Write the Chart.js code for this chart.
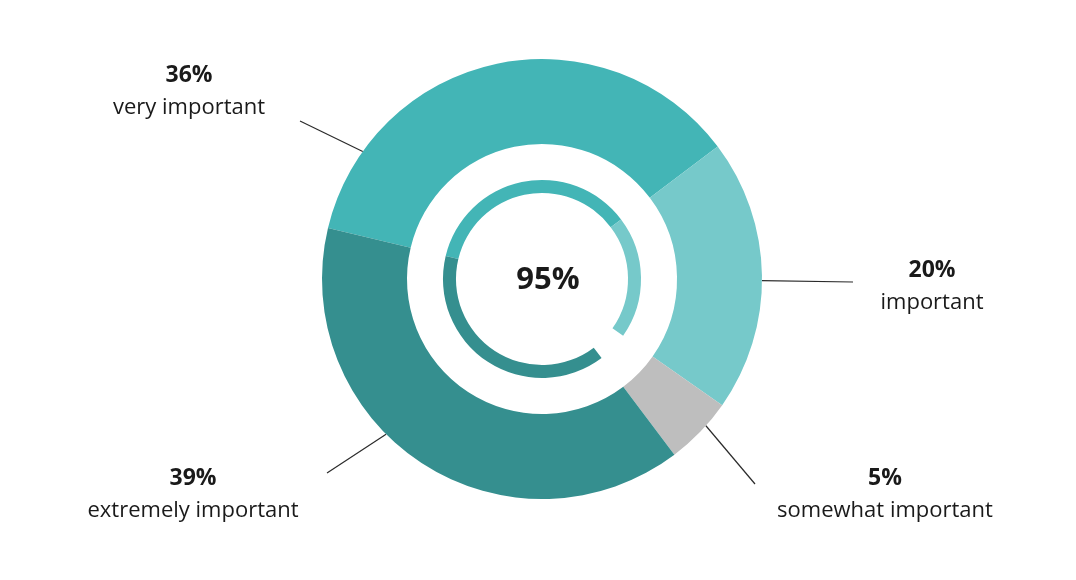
<!DOCTYPE html>
<html>
<head>
<meta charset="utf-8">
<script src="https://cdn.jsdelivr.net/npm/chart.js@4.4.0/dist/chart.umd.min.js"></script>
<style>
  html, body { margin: 0; padding: 0; background: #ffffff; }
  #wrap { width: 1076px; height: 580px; }
</style>
</head>
<body>
<div id="wrap"><canvas id="donut" width="1076" height="580"></canvas></div>
<script>
// data
const categories = ['very important', 'important', 'somewhat important', 'extremely important'];
const shares = [36, 20, 5, 39];
const totalLabel = '95%';

const colors = ['#43b5b6', '#76c9ca', '#bebebe', '#358f8f'];
// the inner thin ring leaves out "somewhat important"
const innerColors = ['#43b5b6', '#76c9ca', 'rgba(0,0,0,0)', '#358f8f'];

// where each callout sits: fraction along its arc, line end, text centre
const callouts = [
    { frac: 0.17, lineEnd: [300, 121], text: [189, 75] },
    { frac: 0.52, lineEnd: [853, 282], text: [932, 270] },
    { frac: 0.38, lineEnd: [755, 484], text: [885, 478] },
    { frac: 0.585, lineEnd: [327, 473], text: [193, 478] }
];

const calloutPlugin = {
    id: 'callouts',
    afterDraw(chart) {
        const ctx = chart.ctx;
        const arcs = chart.getDatasetMeta(0).data;
        ctx.save();
        arcs.forEach((arc, i) => {
            const c = callouts[i];
            const a = arc.startAngle + (arc.endAngle - arc.startAngle) * c.frac;
            const sx = arc.x + Math.cos(a) * arc.outerRadius;
            const sy = arc.y + Math.sin(a) * arc.outerRadius;

            ctx.strokeStyle = '#2b2b2b';
            ctx.lineWidth = 1.2;
            ctx.beginPath();
            ctx.moveTo(sx, sy);
            ctx.lineTo(c.lineEnd[0], c.lineEnd[1]);
            ctx.stroke();

            ctx.fillStyle = '#1a1a1a';
            ctx.textAlign = 'center';
            ctx.textBaseline = 'middle';
            ctx.font = 'bold 23px "Open Sans"';
            ctx.fillText(shares[i] + '%', c.text[0], c.text[1]);
            ctx.font = '22px "Open Sans"';
            ctx.fillText(categories[i], c.text[0], c.text[1] + 33);
        });

        // centre figure
        const first = arcs[0];
        ctx.font = 'bold 31px "Open Sans"';
        ctx.fillStyle = '#1a1a1a';
        ctx.fillText(totalLabel, first.x + 6, first.y + 1);
        ctx.restore();
    }
};

const ctx = document.getElementById('donut').getContext('2d');
new Chart(ctx, {
    type: 'doughnut',
    data: {
        labels: categories,
        datasets: [
            { data: shares, backgroundColor: colors, borderWidth: 0, weight: 85 },
            { data: shares, backgroundColor: 'rgba(0,0,0,0)', borderWidth: 0, weight: 36 },
            { data: shares, backgroundColor: innerColors, borderWidth: 0, weight: 13 }
        ]
    },
    options: {
        responsive: false,
        animation: false,
        rotation: -76.6,
        cutout: '39.1%',
        layout: { padding: { top: 59, bottom: 81, left: 8, right: 0 } },
        plugins: {
            legend: { display: false },
            tooltip: { enabled: false }
        }
    },
    plugins: [calloutPlugin]
});
</script>
</body>
</html>
